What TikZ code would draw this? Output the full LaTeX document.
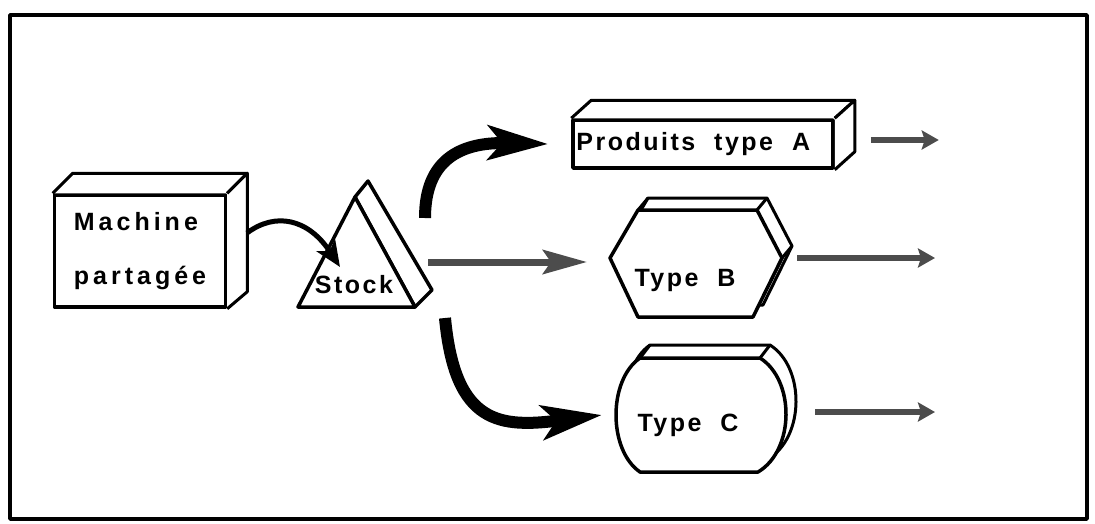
\documentclass[tikz,border=0pt]{standalone}
\usepackage{fontspec}
\usepackage{tikz}
\usetikzlibrary{arrows.meta,positioning,calc}
\newfontfamily\lblwide[LetterSpace=16]{Liberation Sans Bold}
\newfontfamily\lblmid[LetterSpace=10]{Liberation Sans Bold}

\begin{document}
\begin{tikzpicture}[x=1pt,y=-1pt,line join=round,
  face/.style={draw,fill=white,line width=3pt,inner sep=0pt},
  lbl/.style={font=\lblmid\fontsize{25}{30}\selectfont,inner sep=0pt},
  bigarrow/.style={line width=12pt,-{Stealth[length=60pt,width=34pt,inset=14pt]}},
  midarrow/.style={line width=7pt,black!70,-{Stealth[length=44pt,width=24pt,inset=8pt]}},
  thinarrow/.style={line width=5pt,-{Stealth[length=26pt,width=22pt,inset=7pt]}},
  outarrow/.style={line width=6pt,black!70,-{Stealth[length=17pt,width=19pt,inset=3pt]}}]
\useasboundingbox (0,0) rectangle (1095,523);
\draw[line width=3.5pt] (10,15) rectangle (1087,519);

% shared machine
\node[face,line width=3.5pt,minimum width=171pt,minimum height=112pt,align=left,
  font=\lblwide\fontsize{25}{54}\selectfont] (mach) at (140,251) {Machine\\partagée};
\draw[face] (mach.north west) -- ++(20,-20) -- ($(mach.north east)+(20,-20)$) -- (mach.north east);
\draw[face] (mach.north east) -- ++(20,-20) -- ($(mach.south east)+(20,-17)$) -- (mach.south east);

% stock
\coordinate (sa) at (355,197);
\coordinate (sl) at (298,307);
\coordinate (sr) at (415,307);
\draw[face,line width=3.5pt] (sa) -- ++(13,-16) -- ($(sr)+(17,-17)$) -- (sr) -- cycle;
\draw[face,line width=3.5pt] (sa) -- (sl) -- (sr) -- cycle;
\node[lbl] (stock) at (354,285) {Stock};

% type A
\node[face,line width=3.5pt,minimum width=260pt,minimum height=48pt] (prodA) at (703,144) {};
\draw[face] (prodA.north west) -- ++(20,-18) -- ($(prodA.north east)+(20,-18)$) -- (prodA.north east);
\draw[face] (prodA.north east) -- ++(20,-18) -- ($(prodA.south east)+(20,-18)$) -- (prodA.south east);
\node[lbl,anchor=west] (txtA) at ([xshift=5pt]prodA.west) {Produits~~type~~A};

% type B
\begin{scope}[shift={(10,-12)}]
\draw[face] (610,258) -- (638,210) -- (757,210) -- (782,258) -- (753,317) -- (638,317) -- cycle;
\end{scope}
\draw[face] (638,210) -- ++(10,-12) (757,210) -- ++(10,-12) (782,258) -- ++(10,-12);
\draw[face,line width=3.5pt] (610,258) coordinate (bL) -- (638,210) -- (757,210) -- (782,258) coordinate (bR)
  -- (753,317) -- (638,317) -- cycle;
\node[lbl] (txtB) at (685,280) {Type~~B};

% type C
\begin{scope}[shift={(10,-13)}]
\draw[face] (640,358) -- (760,358) .. controls (795,380) and (795,450) .. (758,472)
  -- (640,472) .. controls (608,450) and (608,380) .. (640,358) -- cycle;
\end{scope}
\draw[face] (640,358) -- ++(10,-13) (760,358) -- ++(10,-13);
\draw[face,line width=3.5pt] (640,358) -- (760,358) .. controls (795,380) and (795,450) .. (758,472)
  -- (640,472) .. controls (608,450) and (608,380) .. (640,358) -- cycle;
\coordinate (cL) at (615,415);
\coordinate (cR) at (790,410);
\node[lbl] (txtC) at (688,425) {Type~~C};

% flows
\coordinate (machout) at (247,233);
\coordinate (stkin) at (340,267);
\coordinate (stkA) at (425,218);
\coordinate (stkB) at (428,262);
\coordinate (stkC) at (445,318);
\draw[thinarrow] (machout) .. controls (275,212) and (308,218) .. (stkin);
\draw[bigarrow] (stkA) .. controls (425,160) and (460,142) .. ([xshift=-23pt]prodA.west);
\draw[midarrow] (stkB) -- (587,262);
\draw[bigarrow] (stkC) .. controls (455,425) and (500,428) .. ([xshift=-13pt]cL);
\draw[outarrow] ([xshift=36pt]prodA.east) ++(0,-4) -- ++(68,0);
\draw[outarrow] ([xshift=15pt]bR) -- ++(138,0);
\draw[outarrow] ([xshift=25pt,yshift=-2pt]cR) -- ++(120,0);
\end{tikzpicture}
\end{document}
